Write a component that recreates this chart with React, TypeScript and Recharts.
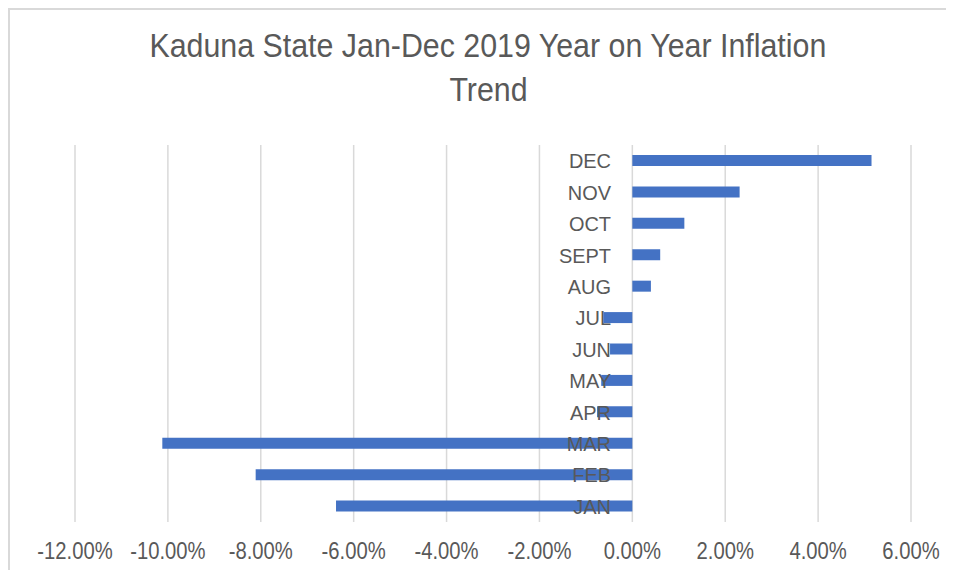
import React from 'react';
import { BarChart, Bar, XAxis, YAxis, CartesianGrid } from 'recharts';

const months = ['JAN', 'FEB', 'MAR', 'APR', 'MAY', 'JUN', 'JUL', 'AUG', 'SEPT', 'OCT', 'NOV', 'DEC'];
const inflation = [-0.0638, -0.0811, -0.1012, -0.0076, -0.0067, -0.0048, -0.0062, 0.004, 0.006, 0.0112, 0.0231, 0.0515];
const xTicks = [-0.12, -0.1, -0.08, -0.06, -0.04, -0.02, 0, 0.02, 0.04, 0.06];
const titleLines = ['Kaduna State Jan-Dec 2019 Year on Year Inflation', 'Trend'];

const data = months.map((m, i) => ({ month: m, value: inflation[i] }));

const W = 944;
const H = 560;
const MARGIN = { top: 135, right: 43, bottom: 8, left: 64 };
const DOMAIN: [number, number] = [xTicks[0], xTicks[xTicks.length - 1]];
const PLOT_W = W - MARGIN.left - MARGIN.right;
const ZERO_X = MARGIN.left + (PLOT_W * (0 - DOMAIN[0])) / (DOMAIN[1] - DOMAIN[0]);

const FONT = '"Liberation Sans", Arial, sans-serif';
const TEXT = '#595959';

const fmt = (v: number) => (v * 100).toFixed(2) + '%';

const CatTick = (props: any) => {
  const { y, payload } = props;
  return (
    <g transform={`translate(${ZERO_X - 21},${y}) scale(0.95,1)`}>
      <text x={0} y={0} dy="0.36em" textAnchor="end" fill={TEXT} fontSize={21} fontFamily={FONT}>
        {payload.value}
      </text>
    </g>
  );
};

const ValTick = (props: any) => {
  const { x, y, payload } = props;
  return (
    <g transform={`translate(${x},${y}) scale(0.88,1)`}>
      <text x={0} y={0} dy="0.71em" textAnchor="middle" fill={TEXT} fontSize={23} fontFamily={FONT}>
        {fmt(payload.value)}
      </text>
    </g>
  );
};

export default function App() {
  return (
    <div
      style={{
        position: 'relative',
        width: W,
        height: H,
        overflow: 'hidden',
        borderTop: '2px solid #d9d9d9',
        borderLeft: '2px solid #d9d9d9',
        background: '#fff',
      }}
    >
      <div
        style={{
          position: 'absolute',
          left: 0,
          top: 14,
          width: W,
          paddingLeft: 12,
          boxSizing: 'border-box',
          textAlign: 'center',
          fontFamily: FONT,
          fontSize: 33,
          lineHeight: '44px',
          color: TEXT,
        }}
      >
        {titleLines.map((t) => (
          <div key={t}>
            <span style={{ display: 'inline-block', transform: 'scaleX(0.92)', whiteSpace: 'nowrap' }}>{t}</span>
          </div>
        ))}
      </div>
      <BarChart width={W} height={H} data={data} layout="vertical" margin={MARGIN}>
        <CartesianGrid horizontal={false} stroke="#d9d9d9" strokeWidth={1.5} />
        <XAxis
          type="number"
          domain={DOMAIN}
          ticks={xTicks}
          tickFormatter={fmt}
          axisLine={false}
          tickLine={false}
          tickMargin={15}
          height={40}
          interval={0}
          tick={<ValTick />}
        />
        <YAxis
          type="category"
          dataKey="month"
          reversed
          width={1}
          axisLine={false}
          tickLine={false}
          interval={0}
          tick={<CatTick />}
        />
        <Bar dataKey="value" fill="#4472C4" barSize={11} isAnimationActive={false} />
      </BarChart>
    </div>
  );
}
